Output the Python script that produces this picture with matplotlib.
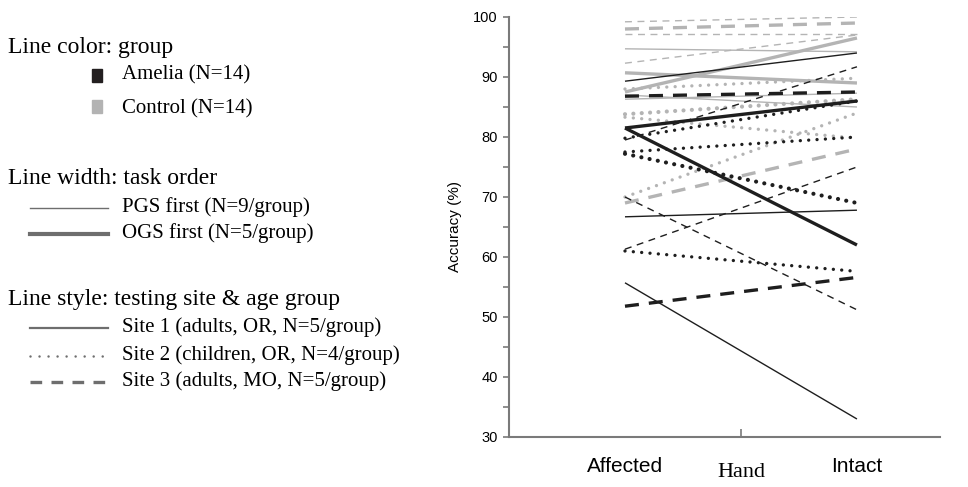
"""
Accuracy per hand (affected vs intact) for Amelia and control participants.
"""

import matplotlib.pyplot as plt
from matplotlib.lines import Line2D
from matplotlib.patches import Rectangle
from matplotlib.ticker import MultipleLocator


hands = ["Affected", "Intact"]

# Amelia group (black)
amelia_affected = [89.3, 81.5, 81.5, 66.7, 55.7, 86.8, 79.5, 70.0, 61.3, 51.8, 79.8, 77.5, 77.2, 61.0]
amelia_intact = [94.0, 86.0, 62.0, 67.8, 33.0, 87.5, 91.7, 51.2, 75.0, 56.6, 86.0, 80.0, 69.0, 57.6]
amelia_site = [1, 1, 1, 1, 1, 3, 3, 3, 3, 3, 2, 2, 2, 2]
amelia_ogs_first = [0, 1, 1, 0, 0, 1, 0, 0, 0, 1, 0, 0, 1, 0]

# Control group (grey)
control_affected = [94.7, 87.5, 90.7, 87.0, 86.3, 99.2, 98.0, 97.2, 92.3, 69.0, 88.0, 83.8, 83.3, 70.0]
control_intact = [94.2, 96.5, 89.0, 85.0, 87.3, 100.0, 99.0, 97.2, 97.0, 78.0, 89.8, 86.3, 79.8, 84.0]
control_site = [1, 1, 1, 1, 1, 3, 3, 3, 3, 3, 2, 2, 2, 2]
control_ogs_first = [0, 1, 1, 0, 0, 0, 1, 0, 0, 1, 0, 1, 0, 0]

BLACK = "#1e1e1e"
GREY = "#b4b4b4"
AXIS_GREY = "#7a7a7a"
SERIF = ["Liberation Serif", "DejaVu Serif"]
SANS = ["Liberation Sans", "DejaVu Sans"]


def line_style(site, thick):
    lw = 2.4 if thick else 1.0
    if site == 1:
        return dict(linewidth=lw, linestyle="-")
    if site == 2:
        lw = 3.0 if thick else 2.4
        return dict(linewidth=lw, linestyle=(0, (0.01, 6.0 / lw)), dash_capstyle="round")
    if thick:
        return dict(linewidth=lw, linestyle=(0, (4.2, 3.0)))
    return dict(linewidth=lw, linestyle=(0, (5.0, 4.0)))


def draw_group(ax, affected, intact, sites, thick, color):
    for a, i, s, t in zip(affected, intact, sites, thick):
        ax.plot([0, 1], [a, i], color=color, solid_capstyle="butt", **line_style(s, t))


def draw_key(fig):
    def px(x, y):
        return x / 968, 1 - y / 487

    fs = 15
    head = 17
    fig.text(*px(8, 47), "Line color: group", family=SERIF, fontsize=head, va="center")
    fig.patches.append(Rectangle(px(92, 82), 10 / 968, 13 / 487, transform=fig.transFigure,
                                 color="#231f20"))
    fig.text(*px(122, 75), "Amelia (N=14)", family=SERIF, fontsize=fs, va="center")
    fig.patches.append(Rectangle(px(92, 113), 10 / 968, 13 / 487, transform=fig.transFigure,
                                 color="#b3b3b3"))
    fig.text(*px(122, 109), "Control (N=14)", family=SERIF, fontsize=fs, va="center")

    fig.text(*px(8, 179), "Line width: task order", family=SERIF, fontsize=head, va="center")
    keys = [
        (207, "PGS first (N=9/group)", dict(linewidth=1.0, linestyle="-")),
        (233, "OGS first (N=5/group)", dict(linewidth=3.0, linestyle="-")),
    ]
    fig.text(*px(8, 300), "Line style: testing site & age group", family=SERIF, fontsize=head,
             va="center")
    keys += [
        (327, "Site 1 (adults, OR, N=5/group)", dict(linewidth=1.6, linestyle="-")),
        (355, "Site 2 (children, OR, N=4/group)",
         dict(linewidth=1.8, linestyle=(0, (0.01, 3.6)), dash_capstyle="round")),
        (381, "Site 3 (adults, MO, N=5/group)", dict(linewidth=2.4, linestyle=(0, (3.5, 2.8)))),
    ]
    for y, label, style in keys:
        x0, yy = px(30, y + 1)
        x1, _ = px(108, y + 1)
        fig.lines.append(Line2D([x0, x1], [yy, yy], transform=fig.transFigure, color="#6e6e6e",
                                **style))
        fig.text(*px(122, y), label, family=SERIF, fontsize=fs, va="center")


def main() -> None:
    fig = plt.figure(figsize=(9.68, 4.87), dpi=100)
    ax = fig.add_axes([509 / 968, 50 / 487, 431 / 968, 420 / 487])

    draw_group(ax, control_affected, control_intact, control_site, control_ogs_first, GREY)
    draw_group(ax, amelia_affected, amelia_intact, amelia_site, amelia_ogs_first, BLACK)

    ax.set_xlim(-0.5, 1.358)
    ax.set_ylim(30, 100)
    ax.yaxis.set_major_locator(MultipleLocator(10))
    ax.yaxis.set_minor_locator(MultipleLocator(5))
    ax.set_xticks([0.5])
    ax.set_xticklabels([""])
    for i, name in enumerate(hands):
        ax.text(i, -0.07, name, transform=ax.get_xaxis_transform(), ha="center", va="center",
                family=SANS, fontsize=15)
    ax.text(0.5, -0.084, "Hand", transform=ax.get_xaxis_transform(), ha="center", va="center",
            family=SERIF, fontsize=16)

    ax.set_ylabel("Accuracy (%)", family=SANS, fontsize=11, labelpad=8)
    for label in ax.get_yticklabels():
        label.set_family(SANS)
        label.set_fontsize(10.5)

    for side in ("top", "right"):
        ax.spines[side].set_visible(False)
    for side in ("left", "bottom"):
        ax.spines[side].set_color(AXIS_GREY)
        ax.spines[side].set_linewidth(1.5)
    ax.tick_params(axis="y", which="both", direction="out", length=4, width=1.2,
                   color=AXIS_GREY, pad=4)
    ax.tick_params(axis="x", direction="in", length=6, width=1.2, color=AXIS_GREY)

    draw_key(fig)

    fig.savefig("out.png", dpi=100)
    plt.close(fig)


if __name__ == "__main__":
    main()
